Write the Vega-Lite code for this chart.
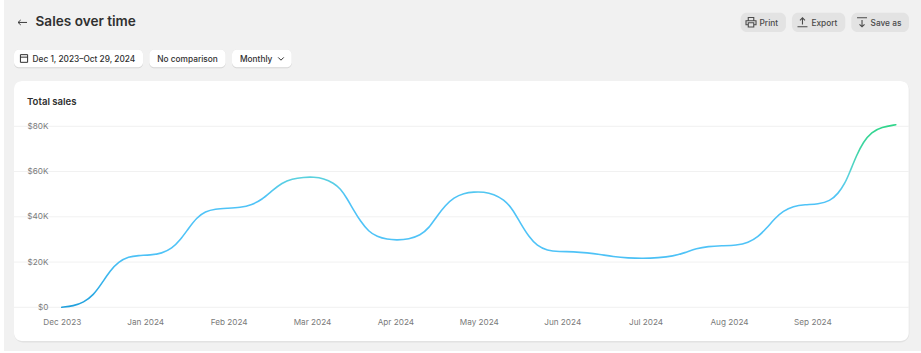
{
"$schema":"https://vega.github.io/schema/vega-lite/v6.json",
"width":895,"height":260,"autosize":{"type":"none"},
"padding":{"left":14,"top":81,"right":12,"bottom":12},
"background":"#ffffff",
"config":{"view":{"stroke":null},"font":"Inter"},
"title":{"text":"Sales over time","anchor":"start","frame":"group","dx":21.5,"offset":-40,"baseline":"alphabetic","fontSize":13.6,"fontWeight":600,"color":"#303030","font":"Inter"},
"layer":[
{"data":{"values":[{"part":"page"}]},"mark":{"type":"rect","fill":"#f1f1f1"},"encoding":{"x":{"datum":-0.693},"x2":{"datum":10.35},"y":{"datum":135827},"y2":{"datum":-19315}}},
{"data":{"values":[{"part":"card edge"}]},"mark":{"type":"rect","fill":"#e2e2e2","cornerRadius":9},"encoding":{"x":{"datum":-0.573},"x2":{"datum":10.162},"y":{"datum":100025},"y2":{"datum":-15558}}},
{"data":{"values":[{"part":"card"}]},"mark":{"type":"rect","fill":"#ffffff","cornerRadius":8},"encoding":{"x":{"datum":-0.573},"x2":{"datum":10.155},"y":{"datum":100025},"y2":{"datum":-14895}}},
{"data":{"values":[{"part":"date edge"}]},"mark":{"type":"rect","fill":"#d4d4d4","cornerRadius":5},"encoding":{"x":{"datum":-0.573},"x2":{"datum":0.974},"y":{"datum":113948},"y2":{"datum":105638}}},
{"data":{"values":[{"part":"date"}]},"mark":{"type":"rect","fill":"#ffffff","cornerRadius":5},"encoding":{"x":{"datum":-0.573},"x2":{"datum":0.974},"y":{"datum":113948},"y2":{"datum":106080}}},
{"data":{"values":[{"part":"comparison edge"}]},"mark":{"type":"rect","fill":"#d4d4d4","cornerRadius":5},"encoding":{"x":{"datum":1.049},"x2":{"datum":1.965},"y":{"datum":113948},"y2":{"datum":105638}}},
{"data":{"values":[{"part":"comparison"}]},"mark":{"type":"rect","fill":"#ffffff","cornerRadius":5},"encoding":{"x":{"datum":1.049},"x2":{"datum":1.965},"y":{"datum":113948},"y2":{"datum":106080}}},
{"data":{"values":[{"part":"period edge"}]},"mark":{"type":"rect","fill":"#d4d4d4","cornerRadius":5},"encoding":{"x":{"datum":2.041},"x2":{"datum":2.757},"y":{"datum":113948},"y2":{"datum":105638}}},
{"data":{"values":[{"part":"period"}]},"mark":{"type":"rect","fill":"#ffffff","cornerRadius":5},"encoding":{"x":{"datum":2.041},"x2":{"datum":2.757},"y":{"datum":113948},"y2":{"datum":106080}}},
{"data":{"values":[{"part":"print"}]},"mark":{"type":"rect","fill":"#e3e3e3","cornerRadius":6},"encoding":{"x":{"datum":8.14},"x2":{"datum":8.683},"y":{"datum":130213},"y2":{"datum":121683}}},
{"data":{"values":[{"part":"export"}]},"mark":{"type":"rect","fill":"#e3e3e3","cornerRadius":6},"encoding":{"x":{"datum":8.755},"x2":{"datum":9.394},"y":{"datum":130213},"y2":{"datum":121683}}},
{"data":{"values":[{"part":"save"}]},"mark":{"type":"rect","fill":"#e3e3e3","cornerRadius":6},"encoding":{"x":{"datum":9.466},"x2":{"datum":10.158},"y":{"datum":130213},"y2":{"datum":121683}}},
{"data":{"values":[{"label":"Dec 1, 2023–Oct 29, 2024"}]},"mark":{"type":"text","align":"left","baseline":"middle","fontSize":8.3,"fontWeight":500,"color":"#303030"},"encoding":{"text":{"field":"label"},"x":{"datum":-0.351},"y":{"datum":109400}}},
{"data":{"values":[{"label":"No comparison"}]},"mark":{"type":"text","align":"left","baseline":"middle","fontSize":8.3,"fontWeight":500,"color":"#303030"},"encoding":{"text":{"field":"label"},"x":{"datum":1.145},"y":{"datum":109400}}},
{"data":{"values":[{"label":"Monthly"}]},"mark":{"type":"text","align":"left","baseline":"middle","fontSize":8.3,"fontWeight":500,"color":"#303030"},"encoding":{"text":{"field":"label"},"x":{"datum":2.137},"y":{"datum":109400}}},
{"data":{"values":[{"label":"Print"}]},"mark":{"type":"text","align":"left","baseline":"middle","fontSize":8.3,"fontWeight":500,"color":"#4a4a4a"},"encoding":{"text":{"field":"label"},"x":{"datum":8.366},"y":{"datum":125400}}},
{"data":{"values":[{"label":"Export"}]},"mark":{"type":"text","align":"left","baseline":"middle","fontSize":8.3,"fontWeight":500,"color":"#4a4a4a"},"encoding":{"text":{"field":"label"},"x":{"datum":8.989},"y":{"datum":125400}}},
{"data":{"values":[{"label":"Save as"}]},"mark":{"type":"text","align":"left","baseline":"middle","fontSize":8.3,"fontWeight":500,"color":"#4a4a4a"},"encoding":{"text":{"field":"label"},"x":{"datum":9.697},"y":{"datum":125400}}},
{"data":{"values":[{"label":"Total sales"}]},"mark":{"type":"text","align":"left","baseline":"middle","fontSize":9.6,"fontWeight":600,"color":"#303030"},"encoding":{"text":{"field":"label"},"x":{"datum":-0.417},"y":{"datum":90700}}},
{"data":{"values":[{"icon":"back"}]},"mark":{"type":"point","filled":false,"stroke":"#3c3c3c","strokeWidth":1,"opacity":1,"size":81,"shape":"M-1,0L1,0M-0.4,-0.55L-1,0L-0.4,0.55"},"encoding":{"x":{"datum":-0.471},"y":{"datum":125900}}},
{"data":{"values":[{"icon":"calendar"}]},"mark":{"type":"point","filled":false,"stroke":"#303030","strokeWidth":1,"opacity":1,"size":81,"shape":"M-0.8,-0.85H0.8V0.85H-0.8ZM-0.8,-0.3H0.8"},"encoding":{"x":{"datum":-0.453},"y":{"datum":109970}}},
{"data":{"values":[{"icon":"chevron"}]},"mark":{"type":"point","filled":false,"stroke":"#303030","strokeWidth":1,"opacity":1,"size":64,"shape":"M-0.7,-0.35L0,0.35L0.7,-0.35"},"encoding":{"x":{"datum":2.628},"y":{"datum":109837}}},
{"data":{"values":[{"icon":"printer"}]},"mark":{"type":"point","filled":false,"stroke":"#4a4a4a","strokeWidth":1.1,"opacity":1,"size":100,"shape":"M-0.55,-0.3V-0.95H0.55V-0.3M-0.55,0.5H-1V-0.3H1V0.5H0.55M-0.55,0.1H0.55V0.95H-0.55Z"},"encoding":{"x":{"datum":8.264},"y":{"datum":125970}}},
{"data":{"values":[{"icon":"export"}]},"mark":{"type":"point","filled":false,"stroke":"#4a4a4a","strokeWidth":1.1,"opacity":1,"size":100,"shape":"M-1,0.9H1M0,0.45V-0.9M-0.5,-0.4L0,-0.9L0.5,-0.4"},"encoding":{"x":{"datum":8.881},"y":{"datum":125970}}},
{"data":{"values":[{"icon":"save"}]},"mark":{"type":"point","filled":false,"stroke":"#4a4a4a","strokeWidth":1.1,"opacity":1,"size":100,"shape":"M-1,-0.9H1M0,-0.45V0.9M-0.5,0.4L0,0.9L0.5,0.4"},"encoding":{"x":{"datum":9.595},"y":{"datum":125970}}},
{"data":{"values":[{"gridline":0},{"gridline":20000},{"gridline":40000},{"gridline":60000},{"gridline":80000}]},"mark":{"type":"rule","color":"#f1f1f1","strokeWidth":1},"encoding":{"y":{"field":"gridline","type":"quantitative"}}},
{"data":{"values":[
{"month":0,"sales":0},{"month":0.14,"sales":600},{"month":0.26,"sales":2100},{"month":0.38,"sales":5400},{"month":0.48,"sales":10600},{"month":0.58,"sales":16200},{"month":0.68,"sales":20100},{"month":0.8,"sales":22400},{"month":0.92,"sales":22900},{"month":1.06,"sales":23100},{"month":1.2,"sales":23800},{"month":1.32,"sales":26000},{"month":1.42,"sales":29700},{"month":1.52,"sales":34900},{"month":1.62,"sales":39700},{"month":1.72,"sales":42400},{"month":1.84,"sales":43500},{"month":1.98,"sales":43800},{"month":2.14,"sales":44100},{"month":2.28,"sales":45300},{"month":2.4,"sales":47600},{"month":2.52,"sales":51500},{"month":2.64,"sales":55000},{"month":2.76,"sales":56800},{"month":2.9,"sales":57500},{"month":3.02,"sales":57600},{"month":3.14,"sales":57000},{"month":3.26,"sales":54900},{"month":3.34,"sales":52500},{"month":3.42,"sales":48100},{"month":3.5,"sales":42900},{"month":3.58,"sales":38100},{"month":3.68,"sales":33400},{"month":3.78,"sales":31200},{"month":3.9,"sales":30000},{"month":4.02,"sales":29700},{"month":4.16,"sales":30100},{"month":4.3,"sales":31900},{"month":4.4,"sales":34900},{"month":4.5,"sales":40400},{"month":4.6,"sales":45100},{"month":4.7,"sales":48500},{"month":4.82,"sales":50400},{"month":4.94,"sales":51000},{"month":5.06,"sales":51000},{"month":5.18,"sales":50000},{"month":5.3,"sales":47600},{"month":5.4,"sales":43700},{"month":5.5,"sales":37100},{"month":5.6,"sales":31200},{"month":5.7,"sales":27100},{"month":5.82,"sales":25100},{"month":5.96,"sales":24600},{"month":6.14,"sales":24600},{"month":6.3,"sales":24100},{"month":6.45,"sales":23400},{"month":6.61,"sales":22400},{"month":6.79,"sales":21800},{"month":6.97,"sales":21600},{"month":7.15,"sales":21900},{"month":7.33,"sales":22600},{"month":7.47,"sales":24100},{"month":7.61,"sales":26000},{"month":7.75,"sales":26900},{"month":7.91,"sales":27200},{"month":8.09,"sales":27400},{"month":8.23,"sales":28500},{"month":8.35,"sales":31200},{"month":8.45,"sales":34900},{"month":8.55,"sales":39300},{"month":8.65,"sales":42600},{"month":8.77,"sales":44700},{"month":8.91,"sales":45400},{"month":9.07,"sales":45600},{"month":9.21,"sales":46900},{"month":9.31,"sales":50300},{"month":9.39,"sales":54700},{"month":9.45,"sales":59900},{"month":9.53,"sales":67200},{"month":9.61,"sales":73100},{"month":9.71,"sales":77500},{"month":9.83,"sales":79700},{"month":10,"sales":80700}
]},
"mark":{"type":"line","interpolate":"basis","strokeWidth":1.6,"strokeCap":"round",
"color":{"gradient":"linear","x1":0,"y1":1,"x2":0,"y2":0,"stops":[{"offset":0,"color":"#1f9fdc"},{"offset":0.15,"color":"#38b4ec"},{"offset":0.3,"color":"#4fc3f7"},{"offset":0.6,"color":"#4fc3f7"},{"offset":0.72,"color":"#5bd2dc"},{"offset":0.85,"color":"#42d5a8"},{"offset":1,"color":"#2fd58a"}]}},
"encoding":{
"x":{"field":"month","type":"quantitative","scale":{"domain":[0,10],"range":[47.8,881.8],"nice":false,"zero":false},
"axis":{"title":null,"values":[0,1,2,3,4,5,6,7,8,9],"grid":false,"domain":false,"ticks":false,"zindex":1,"labelPadding":-19,"labelBaseline":"middle","labelFontSize":8.2,"labelColor":"#7a7a7a","labelFont":"Inter","labelFlush":false,"labelOverlap":false,"labelBound":false,"labelExpr":"['Dec 2023','Jan 2024','Feb 2024','Mar 2024','Apr 2024','May 2024','Jun 2024','Jul 2024','Aug 2024','Sep 2024'][datum.value]"}},
"y":{"field":"sales","type":"quantitative","scale":{"domain":[0,80000],"range":[226.3,45.3],"nice":false,"zero":false},
"axis":{"title":null,"values":[0,20000,40000,60000,80000],"grid":false,"domain":false,"ticks":false,"zindex":1,"labelPadding":-34,"labelBaseline":"middle","labelFontSize":8.2,"labelColor":"#7a7a7a","labelFont":"Inter","labelOverlap":false,"labelBound":false,"labelFlush":false,"labelExpr":"datum.value === 0 ? '$0' : '$' + datum.value / 1000 + 'K'"}}
}}
]}
